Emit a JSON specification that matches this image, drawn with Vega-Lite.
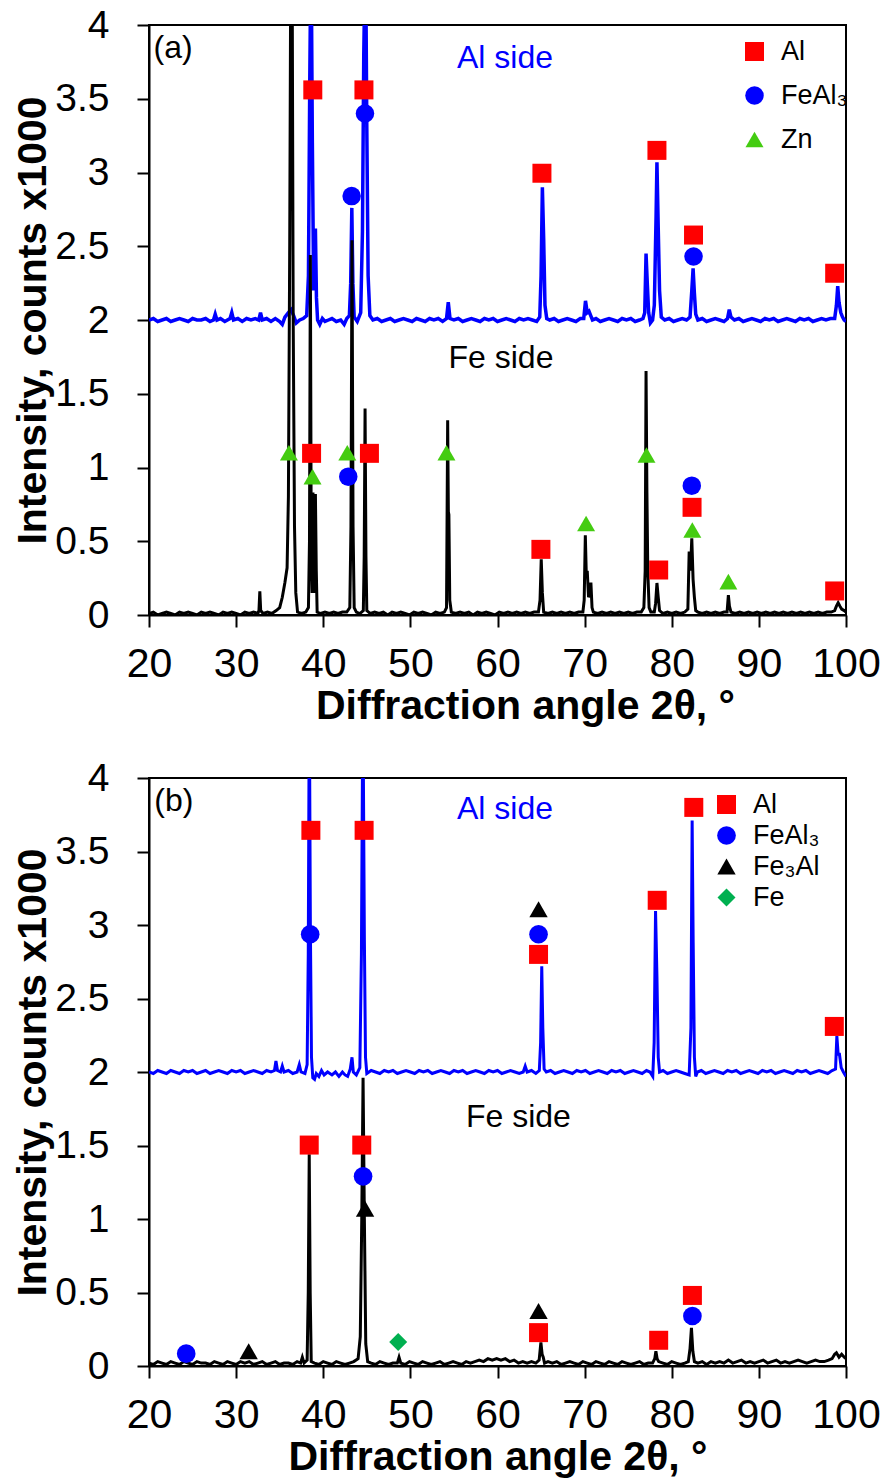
{
"$schema": "https://vega.github.io/schema/vega-lite/v6.json",
"background": "white",
"padding": {"left": 11, "top": 5, "right": 0, "bottom": 0},
"spacing": 31,
"datasets": {
"a_al": [{"x":20,"y":2.0},{"x":20.5,"y":2.01},{"x":21,"y":1.99},{"x":21.5,"y":2.0},{"x":22,"y":2.01},{"x":22.5,"y":1.99},{"x":23,"y":2.0},{"x":23.5,"y":2.01},{"x":24,"y":2.0},{"x":24.5,"y":1.99},{"x":25,"y":2.01},{"x":25.5,"y":2.0},{"x":26,"y":2.0},{"x":26.5,"y":2.01},{"x":27,"y":1.99},{"x":27.4,"y":2.0},{"x":27.6,"y":2.04},{"x":27.8,"y":2.0},{"x":28.2,"y":2.01},{"x":28.7,"y":1.99},{"x":29.3,"y":2.01},{"x":29.5,"y":2.05},{"x":29.7,"y":2.0},{"x":30.2,"y":2.01},{"x":30.7,"y":1.99},{"x":31.2,"y":2.01},{"x":31.7,"y":2.0},{"x":32.2,"y":2.01},{"x":32.6,"y":2.0},{"x":32.8,"y":2.05},{"x":33.0,"y":2.0},{"x":33.5,"y":2.01},{"x":34.0,"y":1.99},{"x":34.5,"y":2.01},{"x":35.0,"y":1.99},{"x":35.3,"y":1.97},{"x":35.6,"y":2.02},{"x":36.0,"y":2.05},{"x":36.3,"y":2.07},{"x":36.6,"y":2.03},{"x":36.9,"y":1.98},{"x":37.3,"y":2.0},{"x":37.7,"y":2.01},{"x":38.1,"y":2.03},{"x":38.3,"y":2.3},{"x":38.45,"y":3.6},{"x":38.6,"y":4.6},{"x":38.75,"y":3.2},{"x":38.9,"y":2.2},{"x":39.0,"y":2.4},{"x":39.1,"y":2.62},{"x":39.22,"y":2.15},{"x":39.35,"y":2.0},{"x":39.6,"y":1.97},{"x":39.9,"y":2.01},{"x":40.2,"y":1.99},{"x":40.6,"y":2.0},{"x":41.0,"y":2.01},{"x":41.5,"y":1.99},{"x":42.0,"y":2.0},{"x":42.4,"y":1.97},{"x":42.7,"y":2.01},{"x":43.0,"y":2.03},{"x":43.15,"y":2.25},{"x":43.28,"y":2.76},{"x":43.4,"y":2.25},{"x":43.55,"y":2.02},{"x":43.9,"y":1.99},{"x":44.3,"y":2.05},{"x":44.5,"y":2.6},{"x":44.65,"y":3.8},{"x":44.85,"y":4.6},{"x":45.0,"y":3.3},{"x":45.15,"y":2.3},{"x":45.35,"y":2.03},{"x":45.7,"y":2.0},{"x":46.2,"y":2.01},{"x":46.7,"y":1.99},{"x":47.2,"y":2.0},{"x":47.7,"y":2.01},{"x":48.2,"y":1.99},{"x":48.7,"y":2.0},{"x":49.2,"y":2.01},{"x":49.7,"y":2.0},{"x":50.2,"y":1.99},{"x":50.7,"y":2.01},{"x":51.2,"y":2.0},{"x":51.7,"y":1.99},{"x":52.2,"y":2.01},{"x":52.7,"y":2.0},{"x":53.2,"y":2.01},{"x":53.7,"y":1.99},{"x":54.15,"y":2.01},{"x":54.35,"y":2.12},{"x":54.55,"y":2.01},{"x":55.0,"y":2.0},{"x":55.5,"y":2.01},{"x":56.0,"y":1.99},{"x":56.5,"y":2.0},{"x":57.0,"y":2.01},{"x":57.5,"y":2.0},{"x":58.0,"y":1.99},{"x":58.5,"y":2.01},{"x":59.0,"y":2.0},{"x":59.5,"y":2.01},{"x":60.0,"y":1.99},{"x":60.5,"y":2.0},{"x":61.0,"y":2.01},{"x":61.5,"y":2.0},{"x":62.0,"y":1.99},{"x":62.5,"y":2.01},{"x":63.0,"y":2.0},{"x":63.5,"y":2.01},{"x":64.0,"y":2.0},{"x":64.5,"y":1.99},{"x":64.85,"y":2.02},{"x":65.0,"y":2.3},{"x":65.15,"y":2.9},{"x":65.3,"y":2.55},{"x":65.45,"y":2.1},{"x":65.65,"y":2.01},{"x":66.0,"y":2.0},{"x":66.5,"y":2.01},{"x":67.0,"y":1.99},{"x":67.5,"y":2.0},{"x":68.0,"y":2.01},{"x":68.5,"y":2.0},{"x":69.0,"y":1.99},{"x":69.5,"y":2.01},{"x":69.9,"y":2.01},{"x":70.1,"y":2.13},{"x":70.3,"y":2.05},{"x":70.5,"y":2.06},{"x":70.7,"y":2.03},{"x":70.9,"y":2.0},{"x":71.3,"y":2.01},{"x":71.8,"y":1.99},{"x":72.3,"y":2.0},{"x":72.8,"y":2.01},{"x":73.3,"y":2.0},{"x":73.8,"y":1.99},{"x":74.3,"y":2.01},{"x":74.8,"y":2.0},{"x":75.3,"y":2.01},{"x":75.8,"y":1.99},{"x":76.3,"y":2.0},{"x":76.7,"y":2.01},{"x":76.9,"y":2.05},{"x":77.05,"y":2.45},{"x":77.2,"y":2.24},{"x":77.35,"y":2.05},{"x":77.55,"y":1.98},{"x":77.8,"y":2.0},{"x":78.0,"y":2.1},{"x":78.2,"y":2.7},{"x":78.3,"y":3.07},{"x":78.45,"y":2.62},{"x":78.6,"y":2.2},{"x":78.8,"y":2.02},{"x":79.2,"y":2.0},{"x":79.7,"y":2.01},{"x":80.2,"y":1.99},{"x":80.7,"y":2.0},{"x":81.2,"y":2.01},{"x":81.7,"y":2.0},{"x":82.1,"y":2.02},{"x":82.3,"y":2.2},{"x":82.45,"y":2.35},{"x":82.6,"y":2.18},{"x":82.75,"y":2.04},{"x":83.0,"y":2.0},{"x":83.5,"y":2.01},{"x":84.0,"y":1.99},{"x":84.5,"y":2.0},{"x":85.0,"y":2.01},{"x":85.5,"y":2.0},{"x":86.0,"y":1.99},{"x":86.4,"y":2.01},{"x":86.6,"y":2.07},{"x":86.8,"y":2.02},{"x":87.2,"y":2.0},{"x":87.7,"y":2.01},{"x":88.2,"y":1.99},{"x":88.7,"y":2.0},{"x":89.2,"y":2.01},{"x":89.7,"y":2.0},{"x":90.2,"y":1.99},{"x":90.7,"y":2.01},{"x":91.2,"y":2.0},{"x":91.7,"y":2.01},{"x":92.2,"y":1.99},{"x":92.7,"y":2.0},{"x":93.2,"y":2.01},{"x":93.7,"y":2.0},{"x":94.2,"y":1.99},{"x":94.7,"y":2.01},{"x":95.2,"y":2.0},{"x":95.7,"y":2.01},{"x":96.2,"y":1.99},{"x":96.7,"y":2.0},{"x":97.2,"y":2.01},{"x":97.7,"y":2.0},{"x":98.2,"y":2.01},{"x":98.7,"y":2.01},{"x":98.9,"y":2.1},{"x":99.05,"y":2.23},{"x":99.2,"y":2.12},{"x":99.4,"y":2.05},{"x":99.6,"y":2.02},{"x":99.8,"y":2.0},{"x":100,"y":1.99}],
"a_fe": [{"x":20,"y":0.01},{"x":20.5,"y":0.02},{"x":21,"y":0.0},{"x":21.5,"y":0.01},{"x":22,"y":0.02},{"x":22.5,"y":0.01},{"x":23,"y":0.0},{"x":23.5,"y":0.02},{"x":24,"y":0.01},{"x":24.5,"y":0.02},{"x":25,"y":0.01},{"x":25.5,"y":0.0},{"x":26,"y":0.02},{"x":26.5,"y":0.01},{"x":27,"y":0.02},{"x":27.5,"y":0.01},{"x":28,"y":0.0},{"x":28.5,"y":0.02},{"x":29,"y":0.01},{"x":29.5,"y":0.02},{"x":30,"y":0.01},{"x":30.5,"y":0.0},{"x":31,"y":0.02},{"x":31.5,"y":0.01},{"x":32,"y":0.02},{"x":32.5,"y":0.01},{"x":32.62,"y":0.03},{"x":32.72,"y":0.16},{"x":32.82,"y":0.03},{"x":33.1,"y":0.01},{"x":33.6,"y":0.02},{"x":34.1,"y":0.01},{"x":34.6,"y":0.03},{"x":35.0,"y":0.05},{"x":35.3,"y":0.12},{"x":35.6,"y":0.22},{"x":35.85,"y":0.32},{"x":36.0,"y":0.8},{"x":36.15,"y":2.5},{"x":36.28,"y":4.6},{"x":36.42,"y":4.6},{"x":36.55,"y":2.0},{"x":36.7,"y":0.6},{"x":36.85,"y":0.15},{"x":37.05,"y":0.02},{"x":37.5,"y":0.01},{"x":38.0,"y":0.02},{"x":38.3,"y":0.05},{"x":38.42,"y":0.5},{"x":38.52,"y":2.44},{"x":38.62,"y":0.5},{"x":38.72,"y":0.15},{"x":38.82,"y":0.83},{"x":38.92,"y":0.3},{"x":39.0,"y":0.15},{"x":39.1,"y":0.82},{"x":39.2,"y":0.3},{"x":39.3,"y":0.02},{"x":39.7,"y":0.01},{"x":40.2,"y":0.02},{"x":40.7,"y":0.01},{"x":41.2,"y":0.02},{"x":41.7,"y":0.01},{"x":42.2,"y":0.02},{"x":42.7,"y":0.02},{"x":43.05,"y":0.05},{"x":43.18,"y":0.6},{"x":43.3,"y":2.54},{"x":43.42,"y":0.6},{"x":43.55,"y":0.05},{"x":43.8,"y":0.02},{"x":44.2,"y":0.01},{"x":44.6,"y":0.03},{"x":44.7,"y":0.4},{"x":44.8,"y":1.4},{"x":44.9,"y":0.4},{"x":45.0,"y":0.03},{"x":45.4,"y":0.01},{"x":45.9,"y":0.02},{"x":46.4,"y":0.01},{"x":46.9,"y":0.02},{"x":47.4,"y":0.0},{"x":47.9,"y":0.02},{"x":48.4,"y":0.01},{"x":48.9,"y":0.02},{"x":49.4,"y":0.01},{"x":49.9,"y":0.0},{"x":50.4,"y":0.02},{"x":50.9,"y":0.01},{"x":51.4,"y":0.02},{"x":51.9,"y":0.01},{"x":52.4,"y":0.0},{"x":52.9,"y":0.02},{"x":53.4,"y":0.01},{"x":53.9,"y":0.02},{"x":54.15,"y":0.05},{"x":54.28,"y":1.32},{"x":54.36,"y":0.7},{"x":54.42,"y":0.68},{"x":54.52,"y":0.1},{"x":54.7,"y":0.02},{"x":55.2,"y":0.01},{"x":55.7,"y":0.02},{"x":56.2,"y":0.01},{"x":56.7,"y":0.02},{"x":57.2,"y":0.0},{"x":57.7,"y":0.02},{"x":58.2,"y":0.01},{"x":58.7,"y":0.02},{"x":59.2,"y":0.01},{"x":59.7,"y":0.0},{"x":60.2,"y":0.02},{"x":60.7,"y":0.01},{"x":61.2,"y":0.02},{"x":61.7,"y":0.01},{"x":62.2,"y":0.02},{"x":62.7,"y":0.01},{"x":63.2,"y":0.02},{"x":63.7,"y":0.01},{"x":64.2,"y":0.02},{"x":64.7,"y":0.02},{"x":64.88,"y":0.1},{"x":65.02,"y":0.377},{"x":65.15,"y":0.15},{"x":65.3,"y":0.02},{"x":65.8,"y":0.01},{"x":66.3,"y":0.02},{"x":66.8,"y":0.01},{"x":67.3,"y":0.02},{"x":67.8,"y":0.01},{"x":68.3,"y":0.02},{"x":68.8,"y":0.01},{"x":69.3,"y":0.02},{"x":69.8,"y":0.02},{"x":69.95,"y":0.1},{"x":70.08,"y":0.54},{"x":70.2,"y":0.25},{"x":70.3,"y":0.3},{"x":70.45,"y":0.12},{"x":70.6,"y":0.15},{"x":70.72,"y":0.22},{"x":70.85,"y":0.05},{"x":71.0,"y":0.02},{"x":71.5,"y":0.01},{"x":72.0,"y":0.02},{"x":72.5,"y":0.01},{"x":73.0,"y":0.02},{"x":73.5,"y":0.01},{"x":74.0,"y":0.02},{"x":74.5,"y":0.01},{"x":75.0,"y":0.02},{"x":75.5,"y":0.01},{"x":76.0,"y":0.02},{"x":76.5,"y":0.02},{"x":76.8,"y":0.05},{"x":76.95,"y":0.3},{"x":77.05,"y":1.654},{"x":77.15,"y":0.83},{"x":77.25,"y":0.3},{"x":77.4,"y":0.05},{"x":77.6,"y":0.02},{"x":78.0,"y":0.02},{"x":78.15,"y":0.08},{"x":78.3,"y":0.217},{"x":78.45,"y":0.12},{"x":78.6,"y":0.03},{"x":79.0,"y":0.01},{"x":79.5,"y":0.02},{"x":80.0,"y":0.01},{"x":80.5,"y":0.02},{"x":81.0,"y":0.01},{"x":81.5,"y":0.02},{"x":81.85,"y":0.04},{"x":82.0,"y":0.43},{"x":82.15,"y":0.3},{"x":82.3,"y":0.52},{"x":82.45,"y":0.24},{"x":82.6,"y":0.12},{"x":82.75,"y":0.03},{"x":83.0,"y":0.02},{"x":83.5,"y":0.01},{"x":84.0,"y":0.02},{"x":84.5,"y":0.01},{"x":85.0,"y":0.02},{"x":85.5,"y":0.01},{"x":86.0,"y":0.02},{"x":86.35,"y":0.02},{"x":86.5,"y":0.135},{"x":86.62,"y":0.06},{"x":86.8,"y":0.02},{"x":87.3,"y":0.01},{"x":87.8,"y":0.02},{"x":88.3,"y":0.01},{"x":88.8,"y":0.02},{"x":89.3,"y":0.01},{"x":89.8,"y":0.02},{"x":90.3,"y":0.01},{"x":90.8,"y":0.02},{"x":91.3,"y":0.01},{"x":91.8,"y":0.02},{"x":92.3,"y":0.01},{"x":92.8,"y":0.02},{"x":93.3,"y":0.01},{"x":93.8,"y":0.02},{"x":94.3,"y":0.01},{"x":94.8,"y":0.02},{"x":95.3,"y":0.01},{"x":95.8,"y":0.02},{"x":96.3,"y":0.01},{"x":96.8,"y":0.02},{"x":97.3,"y":0.01},{"x":97.8,"y":0.02},{"x":98.3,"y":0.02},{"x":98.7,"y":0.03},{"x":98.9,"y":0.06},{"x":99.1,"y":0.083},{"x":99.3,"y":0.06},{"x":99.5,"y":0.04},{"x":99.8,"y":0.03},{"x":100,"y":0.02}],
"b_al": [{"x":20,"y":2.0},{"x":20.5,"y":1.99},{"x":21,"y":2.01},{"x":21.5,"y":2.0},{"x":22,"y":1.99},{"x":22.5,"y":2.01},{"x":23,"y":2.0},{"x":23.5,"y":1.99},{"x":24,"y":2.01},{"x":24.5,"y":2.0},{"x":25,"y":2.01},{"x":25.5,"y":1.99},{"x":26,"y":2.0},{"x":26.5,"y":2.01},{"x":27,"y":1.99},{"x":27.5,"y":2.0},{"x":28,"y":2.01},{"x":28.5,"y":2.0},{"x":29,"y":1.99},{"x":29.5,"y":2.01},{"x":30,"y":2.0},{"x":30.5,"y":2.01},{"x":31,"y":1.99},{"x":31.5,"y":2.0},{"x":32,"y":2.01},{"x":32.5,"y":2.0},{"x":33,"y":1.99},{"x":33.5,"y":2.01},{"x":34,"y":2.0},{"x":34.4,"y":2.01},{"x":34.57,"y":2.075},{"x":34.75,"y":2.01},{"x":35.1,"y":2.0},{"x":35.3,"y":2.04},{"x":35.5,"y":2.0},{"x":36.0,"y":2.01},{"x":36.5,"y":1.99},{"x":37.0,"y":2.0},{"x":37.25,"y":2.05},{"x":37.45,"y":2.0},{"x":37.9,"y":1.99},{"x":38.15,"y":2.05},{"x":38.28,"y":2.8},{"x":38.4,"y":4.6},{"x":38.52,"y":3.0},{"x":38.65,"y":2.1},{"x":38.8,"y":1.96},{"x":39.0,"y":1.95},{"x":39.2,"y":1.99},{"x":39.5,"y":1.97},{"x":39.8,"y":2.01},{"x":40.1,"y":1.98},{"x":40.5,"y":2.0},{"x":41.0,"y":1.98},{"x":41.4,"y":2.0},{"x":41.8,"y":1.97},{"x":42.2,"y":2.0},{"x":42.5,"y":1.98},{"x":42.8,"y":1.97},{"x":43.1,"y":2.02},{"x":43.3,"y":2.1},{"x":43.45,"y":2.0},{"x":43.8,"y":1.98},{"x":44.2,"y":2.03},{"x":44.38,"y":2.8},{"x":44.55,"y":4.6},{"x":44.72,"y":2.9},{"x":44.85,"y":2.1},{"x":45.0,"y":1.99},{"x":45.5,"y":2.01},{"x":46,"y":2.0},{"x":46.5,"y":1.99},{"x":47,"y":2.01},{"x":47.5,"y":2.0},{"x":48,"y":2.01},{"x":48.5,"y":1.99},{"x":49,"y":2.0},{"x":49.5,"y":2.01},{"x":50,"y":2.0},{"x":50.5,"y":1.99},{"x":51,"y":2.01},{"x":51.5,"y":2.0},{"x":52,"y":2.01},{"x":52.5,"y":1.99},{"x":53,"y":2.0},{"x":53.5,"y":2.01},{"x":54,"y":2.0},{"x":54.5,"y":1.99},{"x":55,"y":2.01},{"x":55.5,"y":2.0},{"x":56,"y":2.01},{"x":56.5,"y":1.99},{"x":57,"y":2.0},{"x":57.5,"y":2.01},{"x":58,"y":2.0},{"x":58.5,"y":1.99},{"x":59,"y":2.01},{"x":59.5,"y":2.0},{"x":60,"y":2.01},{"x":60.5,"y":1.99},{"x":61,"y":2.0},{"x":61.5,"y":2.01},{"x":62,"y":2.0},{"x":62.5,"y":1.99},{"x":62.95,"y":2.0},{"x":63.18,"y":2.04},{"x":63.4,"y":2.0},{"x":63.9,"y":2.01},{"x":64.4,"y":1.99},{"x":64.8,"y":2.01},{"x":64.95,"y":2.2},{"x":65.08,"y":2.72},{"x":65.2,"y":2.3},{"x":65.35,"y":2.02},{"x":65.6,"y":2.0},{"x":66.1,"y":2.01},{"x":66.6,"y":1.99},{"x":67.1,"y":2.0},{"x":67.6,"y":2.01},{"x":68.1,"y":2.0},{"x":68.6,"y":1.99},{"x":69.1,"y":2.01},{"x":69.6,"y":2.0},{"x":70.1,"y":2.01},{"x":70.6,"y":1.99},{"x":71.1,"y":2.0},{"x":71.6,"y":2.01},{"x":72.1,"y":2.0},{"x":72.6,"y":1.99},{"x":73.1,"y":2.01},{"x":73.6,"y":2.0},{"x":74.1,"y":2.01},{"x":74.6,"y":1.99},{"x":75.1,"y":2.0},{"x":75.6,"y":2.01},{"x":76.1,"y":2.0},{"x":76.6,"y":1.99},{"x":77.1,"y":2.01},{"x":77.5,"y":2.0},{"x":77.82,"y":1.97},{"x":77.98,"y":2.2},{"x":78.14,"y":3.095},{"x":78.3,"y":2.65},{"x":78.45,"y":2.1},{"x":78.6,"y":2.0},{"x":79.0,"y":2.01},{"x":79.5,"y":1.99},{"x":80.0,"y":2.0},{"x":80.5,"y":2.01},{"x":81.0,"y":2.0},{"x":81.5,"y":1.99},{"x":82.0,"y":1.98},{"x":82.2,"y":2.3},{"x":82.34,"y":3.71},{"x":82.46,"y":2.88},{"x":82.6,"y":2.1},{"x":82.75,"y":1.97},{"x":82.95,"y":2.0},{"x":83.4,"y":2.01},{"x":83.9,"y":1.99},{"x":84.4,"y":2.0},{"x":84.9,"y":2.01},{"x":85.4,"y":2.0},{"x":85.9,"y":1.99},{"x":86.4,"y":2.01},{"x":86.9,"y":2.0},{"x":87.4,"y":2.01},{"x":87.9,"y":1.99},{"x":88.4,"y":2.0},{"x":88.9,"y":2.01},{"x":89.4,"y":2.0},{"x":89.9,"y":1.99},{"x":90.4,"y":2.01},{"x":90.9,"y":2.0},{"x":91.4,"y":2.01},{"x":91.9,"y":1.99},{"x":92.4,"y":2.0},{"x":92.9,"y":2.01},{"x":93.4,"y":2.0},{"x":93.9,"y":1.99},{"x":94.4,"y":2.01},{"x":94.9,"y":2.0},{"x":95.4,"y":2.01},{"x":95.9,"y":1.99},{"x":96.4,"y":2.0},{"x":96.9,"y":2.01},{"x":97.4,"y":2.0},{"x":97.9,"y":1.99},{"x":98.4,"y":2.01},{"x":98.8,"y":2.02},{"x":98.95,"y":2.245},{"x":99.1,"y":2.12},{"x":99.25,"y":2.12},{"x":99.45,"y":2.03},{"x":99.7,"y":2.0},{"x":100,"y":1.97}],
"b_fe": [{"x":20,"y":0.02},{"x":20.5,"y":0.01},{"x":21,"y":0.03},{"x":21.5,"y":0.02},{"x":22,"y":0.01},{"x":22.5,"y":0.03},{"x":23,"y":0.02},{"x":23.5,"y":0.01},{"x":24,"y":0.03},{"x":24.5,"y":0.02},{"x":25,"y":0.01},{"x":25.5,"y":0.03},{"x":26,"y":0.02},{"x":26.5,"y":0.02},{"x":27,"y":0.01},{"x":27.5,"y":0.03},{"x":28,"y":0.02},{"x":28.5,"y":0.01},{"x":29,"y":0.03},{"x":29.5,"y":0.02},{"x":30,"y":0.01},{"x":30.5,"y":0.03},{"x":31,"y":0.02},{"x":31.5,"y":0.03},{"x":32,"y":0.01},{"x":32.5,"y":0.02},{"x":33,"y":0.03},{"x":33.5,"y":0.01},{"x":34,"y":0.02},{"x":34.5,"y":0.03},{"x":35,"y":0.01},{"x":35.5,"y":0.02},{"x":36,"y":0.02},{"x":36.5,"y":0.01},{"x":37,"y":0.03},{"x":37.4,"y":0.02},{"x":37.6,"y":0.06},{"x":37.8,"y":0.02},{"x":38.15,"y":0.04},{"x":38.28,"y":0.5},{"x":38.39,"y":1.44},{"x":38.5,"y":0.5},{"x":38.62,"y":0.03},{"x":39.0,"y":0.02},{"x":39.5,"y":0.01},{"x":40,"y":0.03},{"x":40.5,"y":0.02},{"x":41,"y":0.01},{"x":41.5,"y":0.03},{"x":42,"y":0.02},{"x":42.5,"y":0.01},{"x":43,"y":0.02},{"x":43.5,"y":0.03},{"x":44.0,"y":0.05},{"x":44.25,"y":0.2},{"x":44.42,"y":1.0},{"x":44.57,"y":1.96},{"x":44.72,"y":1.0},{"x":44.88,"y":0.15},{"x":45.1,"y":0.03},{"x":45.5,"y":0.02},{"x":46,"y":0.01},{"x":46.5,"y":0.03},{"x":47,"y":0.02},{"x":47.5,"y":0.01},{"x":48,"y":0.02},{"x":48.5,"y":0.02},{"x":48.7,"y":0.06},{"x":48.9,"y":0.02},{"x":49.4,"y":0.01},{"x":49.9,"y":0.03},{"x":50.4,"y":0.02},{"x":50.9,"y":0.01},{"x":51.4,"y":0.03},{"x":51.9,"y":0.02},{"x":52.4,"y":0.01},{"x":52.9,"y":0.02},{"x":53.4,"y":0.03},{"x":53.9,"y":0.01},{"x":54.4,"y":0.02},{"x":54.9,"y":0.03},{"x":55.4,"y":0.02},{"x":55.9,"y":0.01},{"x":56.4,"y":0.03},{"x":56.9,"y":0.02},{"x":57.4,"y":0.03},{"x":57.9,"y":0.04},{"x":58.4,"y":0.03},{"x":58.9,"y":0.05},{"x":59.4,"y":0.04},{"x":59.9,"y":0.05},{"x":60.4,"y":0.04},{"x":60.9,"y":0.05},{"x":61.4,"y":0.03},{"x":61.9,"y":0.04},{"x":62.4,"y":0.02},{"x":62.9,"y":0.03},{"x":63.4,"y":0.02},{"x":63.9,"y":0.03},{"x":64.4,"y":0.02},{"x":64.78,"y":0.04},{"x":64.98,"y":0.16},{"x":65.12,"y":0.08},{"x":65.25,"y":0.06},{"x":65.4,"y":0.02},{"x":65.8,"y":0.03},{"x":66.3,"y":0.02},{"x":66.8,"y":0.03},{"x":67.3,"y":0.01},{"x":67.8,"y":0.02},{"x":68.3,"y":0.03},{"x":68.8,"y":0.02},{"x":69.3,"y":0.01},{"x":69.8,"y":0.03},{"x":70.3,"y":0.02},{"x":70.8,"y":0.01},{"x":71.3,"y":0.03},{"x":71.8,"y":0.02},{"x":72.3,"y":0.01},{"x":72.8,"y":0.03},{"x":73.3,"y":0.02},{"x":73.8,"y":0.01},{"x":74.3,"y":0.03},{"x":74.8,"y":0.02},{"x":75.3,"y":0.01},{"x":75.8,"y":0.02},{"x":76.3,"y":0.03},{"x":76.8,"y":0.01},{"x":77.3,"y":0.02},{"x":77.8,"y":0.02},{"x":78.05,"y":0.05},{"x":78.18,"y":0.1},{"x":78.32,"y":0.05},{"x":78.5,"y":0.03},{"x":79.0,"y":0.02},{"x":79.5,"y":0.01},{"x":80.0,"y":0.03},{"x":80.5,"y":0.02},{"x":81.0,"y":0.01},{"x":81.5,"y":0.02},{"x":81.9,"y":0.03},{"x":82.1,"y":0.12},{"x":82.26,"y":0.26},{"x":82.42,"y":0.1},{"x":82.6,"y":0.03},{"x":83.0,"y":0.02},{"x":83.5,"y":0.03},{"x":84.0,"y":0.01},{"x":84.5,"y":0.03},{"x":85.0,"y":0.02},{"x":85.5,"y":0.03},{"x":86.0,"y":0.02},{"x":86.5,"y":0.04},{"x":87.0,"y":0.02},{"x":87.5,"y":0.03},{"x":88.0,"y":0.04},{"x":88.5,"y":0.02},{"x":89.0,"y":0.03},{"x":89.5,"y":0.02},{"x":90.0,"y":0.03},{"x":90.5,"y":0.04},{"x":91.0,"y":0.02},{"x":91.5,"y":0.03},{"x":92.0,"y":0.04},{"x":92.5,"y":0.02},{"x":93.0,"y":0.03},{"x":93.5,"y":0.02},{"x":94.0,"y":0.03},{"x":94.5,"y":0.04},{"x":95.0,"y":0.03},{"x":95.5,"y":0.02},{"x":96.0,"y":0.03},{"x":96.5,"y":0.04},{"x":97.0,"y":0.03},{"x":97.5,"y":0.03},{"x":98.0,"y":0.04},{"x":98.4,"y":0.05},{"x":98.7,"y":0.08},{"x":98.9,"y":0.09},{"x":99.2,"y":0.06},{"x":99.5,"y":0.08},{"x":99.8,"y":0.06},{"x":100,"y":0.05}],
"a_marks": [{"x":38.8,"y":3.56,"phase":"Al"},{"x":44.67,"y":3.56,"phase":"Al"},{"x":43.26,"y":2.84,"phase":"FeAl₃"},{"x":44.79,"y":3.4,"phase":"FeAl₃"},{"x":65.1,"y":2.995,"phase":"Al"},{"x":78.3,"y":3.15,"phase":"Al"},{"x":82.5,"y":2.576,"phase":"Al"},{"x":82.5,"y":2.43,"phase":"FeAl₃"},{"x":98.7,"y":2.317,"phase":"Al"},{"x":36.06,"y":1.1,"phase":"Zn"},{"x":38.66,"y":1.096,"phase":"Al"},{"x":38.77,"y":0.938,"phase":"Zn"},{"x":42.76,"y":1.1,"phase":"Zn"},{"x":42.87,"y":0.938,"phase":"FeAl₃"},{"x":45.3,"y":1.096,"phase":"Al"},{"x":54.14,"y":1.1,"phase":"Zn"},{"x":64.98,"y":0.445,"phase":"Al"},{"x":70.17,"y":0.62,"phase":"Zn"},{"x":77.1,"y":1.085,"phase":"Zn"},{"x":78.5,"y":0.305,"phase":"Al"},{"x":82.33,"y":0.73,"phase":"Al"},{"x":82.3,"y":0.877,"phase":"FeAl₃"},{"x":82.36,"y":0.576,"phase":"Zn"},{"x":86.5,"y":0.226,"phase":"Zn"},{"x":98.7,"y":0.163,"phase":"Al"}],
"b_marks": [{"x":38.58,"y":3.644,"phase":"Al"},{"x":44.69,"y":3.644,"phase":"Al"},{"x":38.5,"y":2.937,"phase":"FeAl₃"},{"x":64.71,"y":3.107,"phase":"Fe₃Al"},{"x":64.71,"y":2.937,"phase":"FeAl₃"},{"x":64.71,"y":2.8,"phase":"Al"},{"x":78.33,"y":3.168,"phase":"Al"},{"x":82.53,"y":3.8,"phase":"Al"},{"x":98.66,"y":2.31,"phase":"Al"},{"x":38.39,"y":1.503,"phase":"Al"},{"x":44.42,"y":1.503,"phase":"Al"},{"x":44.57,"y":1.29,"phase":"FeAl₃"},{"x":44.8,"y":1.07,"phase":"Fe₃Al"},{"x":24.27,"y":0.084,"phase":"FeAl₃"},{"x":31.44,"y":0.1,"phase":"Fe₃Al"},{"x":48.6,"y":0.163,"phase":"Fe"},{"x":64.71,"y":0.374,"phase":"Fe₃Al"},{"x":64.71,"y":0.227,"phase":"Al"},{"x":78.5,"y":0.175,"phase":"Al"},{"x":82.37,"y":0.34,"phase":"FeAl₃"},{"x":82.37,"y":0.48,"phase":"Al"}],
"a_text": [{"x":22.76,"y":3.844,"label":"(a)"},{"x":60.86,"y":3.774,"label":"Al side"},{"x":60.4,"y":1.744,"label":"Fe side"}],
"b_text": [{"x":22.86,"y":3.844,"label":"(b)"},{"x":60.86,"y":3.79,"label":"Al side"},{"x":62.4,"y":1.696,"label":"Fe side"}]
},
"vconcat": [
{
"width": 697, "height": 590,
"encoding": {
 "x": {"field": "x", "type": "quantitative", "scale": {"domain": [20, 100], "nice": false, "zero": false}, "axis": {"values": [20,30,40,50,60,70,80,90,100], "title": "Diffraction angle 2θ, °", "labelFlush": false, "titleX": 376}},
 "y": {"field": "y", "type": "quantitative", "scale": {"domain": [0, 4], "nice": false, "zero": false}, "axis": {"values": [0,0.5,1,1.5,2,2.5,3,3.5,4], "format": "~g", "title": "Intensity, counts x1000"}}
},
"layer": [
 {"data": {"name": "a_al"}, "mark": {"type": "line", "color": "#0000FF", "strokeWidth": 3.5, "clip": true}},
 {"data": {"name": "a_fe"}, "mark": {"type": "line", "color": "#000000", "strokeWidth": 3, "clip": true}},
 {"data": {"name": "a_marks"}, "mark": {"type": "point", "filled": true, "opacity": 1, "strokeWidth": 0},
  "encoding": {
   "color": {"field": "phase", "type": "nominal", "scale": {"domain": ["Al","FeAl₃","Zn"], "range": ["#FF0000","#0000FF","#44CC11"]}, "legend": {"title": null, "orient": "none", "legendX": 592, "legendY": 13, "rowPadding": 16}},
   "shape": {"field": "phase", "type": "nominal", "scale": {"domain": ["Al","FeAl₃","Zn"], "range": ["square","circle","triangle-up"]}, "legend": {"title": null, "orient": "none", "legendX": 592, "legendY": 13, "rowPadding": 16}},
   "size": {"field": "phase", "type": "nominal", "scale": {"domain": ["Al","FeAl₃","Zn"], "range": [361, 324, 529]}, "legend": null}
  }},
 {"data": {"name": "a_text"}, "mark": {"type": "text", "fontSize": 32, "baseline": "middle", "align": "center"},
  "encoding": {"text": {"field": "label"}, "color": {"condition": {"test": "datum.label === 'Al side'", "value": "#0000FF"}, "value": "#000000"}}}
]
},
{
"width": 697, "height": 588,
"encoding": {
 "x": {"field": "x", "type": "quantitative", "scale": {"domain": [20, 100], "nice": false, "zero": false}, "axis": {"values": [20,30,40,50,60,70,80,90,100], "title": "Diffraction angle 2θ, °", "labelFlush": false}},
 "y": {"field": "y", "type": "quantitative", "scale": {"domain": [0, 4], "nice": false, "zero": false}, "axis": {"values": [0,0.5,1,1.5,2,2.5,3,3.5,4], "format": "~g", "title": "Intensity, counts x1000"}}
},
"layer": [
 {"data": {"name": "b_al"}, "mark": {"type": "line", "color": "#0000FF", "strokeWidth": 3, "clip": true}},
 {"data": {"name": "b_fe"}, "mark": {"type": "line", "color": "#000000", "strokeWidth": 3, "clip": true}},
 {"data": {"name": "b_marks"}, "mark": {"type": "point", "filled": true, "opacity": 1, "strokeWidth": 0},
  "encoding": {
   "color": {"field": "phase", "type": "nominal", "scale": {"domain": ["Al","FeAl₃","Fe₃Al","Fe"], "range": ["#FF0000","#0000FF","#000000","#00B050"]}, "legend": {"title": null, "orient": "none", "legendX": 564, "legendY": 13, "rowPadding": 3}},
   "shape": {"field": "phase", "type": "nominal", "scale": {"domain": ["Al","FeAl₃","Fe₃Al","Fe"], "range": ["square","circle","triangle-up","diamond"]}, "legend": {"title": null, "orient": "none", "legendX": 564, "legendY": 13, "rowPadding": 3}},
   "size": {"field": "phase", "type": "nominal", "scale": {"domain": ["Al","FeAl₃","Fe₃Al","Fe"], "range": [361, 324, 529, 484]}, "legend": null}
  }},
 {"data": {"name": "b_text"}, "mark": {"type": "text", "fontSize": 32, "baseline": "middle", "align": "center"},
  "encoding": {"text": {"field": "label"}, "color": {"condition": {"test": "datum.label === 'Al side'", "value": "#0000FF"}, "value": "#000000"}}}
]
}
],
"resolve": {"scale": {"color": "independent", "shape": "independent", "size": "independent"}},
"config": {
 "font": "Liberation Sans",
 "view": {"stroke": "#000000", "strokeWidth": 2},
 "axis": {"domainColor": "#000000", "domainWidth": 2, "tickColor": "#000000", "tickWidth": 2, "tickSize": 12, "labelColor": "#000000", "titleColor": "#000000", "grid": false, "labelFont": "Liberation Sans", "titleFont": "Liberation Sans", "titleFontWeight": "bold", "titleFontSize": 41, "labelOverlap": false},
 "axisX": {"labelFontSize": 41, "labelPadding": 17, "titlePadding": 2},
 "axisY": {"labelFontSize": 39, "labelPadding": 28, "titlePadding": 0},
 "legend": {"labelFontSize": 27, "labelFont": "Liberation Sans", "labelColor": "#000000", "symbolSize": 440, "padding": 0, "labelOffset": 13, "symbolStrokeWidth": 0, "symbolOpacity": 1}
}
}
